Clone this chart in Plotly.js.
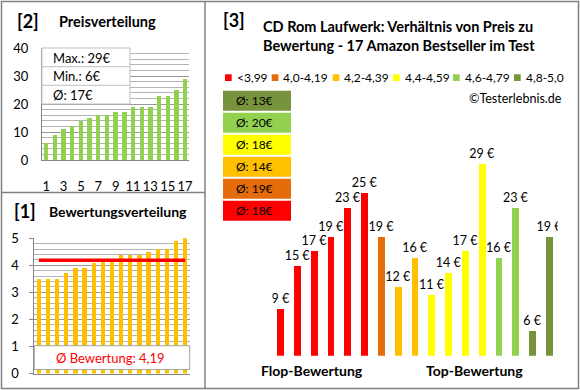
<!DOCTYPE html>
<html>
<head>
<meta charset="utf-8">
<script src="https://cdn.plot.ly/plotly-3.0.1.min.js"></script>
<style>html,body{margin:0;padding:0;background:#fff}#chart{width:580px;height:390px}</style>
</head>
<body>
<div id="chart"></div>
<script>
// ---- data ----
const productIdx = [1,2,3,4,5,6,7,8,9,10,11,12,13,14,15,16,17];
const pricesSorted = [6,9,11,12,14,15,16,16,17,17,19,19,19,23,23,25,29];
const ratingsSorted = [3.5,3.5,3.5,3.7,3.9,3.9,4.1,4.2,4.2,4.4,4.4,4.4,4.5,4.6,4.6,4.9,5.0];
const avgRating = 4.19;
const avgRatingLabel = 'Ø Bewertung: 4,19';
const statLabels = ['Max.: 29€', 'Min.: 6€', 'Ø: 17€'];
const priceTicks = [1,3,5,7,9,11,13,15,17];

const barPrices = [9,15,17,19,23,25,19,12,16,11,14,17,29,16,23,6,19];
const barGroup  = [0,0,0,0,0,0,1,2,2,3,3,3,3,4,4,5,5];
const groupNames  = ['<3,99','4,0-4,19','4,2-4,39','4,4-4,59','4,6-4,79','4,8-5,0'];
const groupColors = ['#FF0000','#E46C0A','#FFC000','#FFFF00','#92D050','#77933C'];
const groupAvg    = ['18','19','14','18','20','13'];

// ---- helpers (pixel -> paper) ----
const W = 580, H = 390;
const px = x => x / W;
const py = y => 1 - y / H;
const FONT = 'Lato, "Open Sans", sans-serif';
const GRID = '#989898';
const AXIS = '#868686';

const traces = [
  { type: 'bar', x: productIdx, y: pricesSorted, xaxis: 'x', yaxis: 'y',
    marker: { color: '#92D050' }, width: 0.5, hoverinfo: 'skip' },
  { type: 'bar', x: productIdx, y: ratingsSorted, xaxis: 'x2', yaxis: 'y2',
    marker: { color: '#FFC000' }, width: 0.47, hoverinfo: 'skip' },
  { type: 'scatter', mode: 'lines', x: productIdx, y: productIdx.map(() => avgRating),
    xaxis: 'x2', yaxis: 'y2', line: { color: '#FF0000', width: 3.5 }, hoverinfo: 'skip' },
  { type: 'bar', x: barPrices.map((_, i) => i), y: barPrices, xaxis: 'x3', yaxis: 'y3',
    marker: { color: barGroup.map(g => groupColors[g]) }, width: 0.4,
    text: barPrices.map(p => p + ' €'), textposition: 'outside', constraintext: 'none',
    textfont: { family: FONT, size: 12.5, color: '#000' }, hoverinfo: 'skip' }
];

const shapes = [];
const annotations = [];
const ann = (text, x, y, opts) => annotations.push(Object.assign({
  text, x: px(x), y: py(y), xref: 'paper', yref: 'paper', showarrow: false,
  xanchor: 'left', yanchor: 'middle', font: { family: FONT, size: 12, color: '#000' }
}, opts || {}));
const rect = (x0, y0, x1, y1, fill, line, lw) => shapes.push({
  type: 'rect', xref: 'paper', yref: 'paper', x0: px(x0), x1: px(x1), y0: py(y1), y1: py(y0),
  fillcolor: fill, line: { color: line || 'rgba(0,0,0,0)', width: lw || 0 }, layer: 'above'
});
const line = (x0, y0, x1, y1, color, w) => shapes.push({
  type: 'line', xref: 'paper', yref: 'paper', x0: px(x0), x1: px(x1), y0: py(y0), y1: py(y1),
  line: { color, width: w }, layer: 'above'
});

// frame
rect(1.5, 1.5, 578.5, 388.5, 'rgba(0,0,0,0)', '#808080', 1.5);
line(205, 1.5, 205, 388.5, '#808080', 1.5);
line(1.5, 192.5, 205, 192.5, '#808080', 1.5);

// panel titles
ann('<b>[2]</b>', 15, 21, { font: { family: FONT, size: 18, color: '#000' } });
ann('<b>Preisverteilung</b>', 57, 21, { font: { family: FONT, size: 14.5, color: '#000' } });
ann('<b>[1]</b>', 12, 211, { font: { family: FONT, size: 18, color: '#000' } });
ann('<b>Bewertungsverteilung</b>', 47, 211, { font: { family: FONT, size: 14, color: '#000' } });
ann('<b>[3]</b>', 221, 20, { font: { family: FONT, size: 18, color: '#000' } });
ann('<b>CD Rom Laufwerk: Verhältnis von Preis zu<br>Bewertung - 17 Amazon Bestseller im Test</b>', 398.5, 36,
  { xanchor: 'center', align: 'left', font: { family: FONT, size: 14.5, color: '#000' } });

// stats box in price chart
rect(41.9, 48, 130, 104, '#FFFFFF', '#BFBFBF', 1);
line(41.9, 66.7, 130, 66.7, '#BFBFBF', 1);
line(41.9, 85.3, 130, 85.3, '#BFBFBF', 1);
statLabels.forEach((t, i) => ann(t, 51, [57.5, 76, 94.5][i], { font: { family: FONT, size: 13, color: '#000' } }));

// rating box
rect(34.3, 345.7, 189.7, 369.5, '#FFFFFF', '#A6A6A6', 1);
ann(avgRatingLabel, 110, 358, { xanchor: 'center', font: { family: FONT, size: 13, color: '#FF0000' } });

// legend
const legendX = [225, 271.7, 332.7, 393, 453, 514];
groupNames.forEach((n, i) => {
  rect(legendX[i], 74.3, legendX[i] + 6.7, 81, groupColors[i]);
  ann(n, legendX[i] + 9.5, 77.7, { font: { family: FONT, size: 12, color: '#000' } });
});
ann('©Testerlebnis.de', 564, 98, { xanchor: 'right', font: { family: FONT, size: 12.5, color: '#000' } });

// average boxes
groupAvg.forEach((a, i) => {
  const top = 200.7 - 22 * i;
  rect(223, top, 291, top + 20, groupColors[i]);
  ann('Ø: ' + a + '€', 233.5, top + 10, { font: { family: FONT, size: 12, color: '#000' } });
});

ann('<b>Flop-Bewertung</b>', 312, 370, { xanchor: 'center', font: { family: FONT, size: 14, color: '#000' } });
ann('<b>Top-Bewertung</b>', 474, 370, { xanchor: 'center', font: { family: FONT, size: 14, color: '#000' } });

const layout = {
  width: W, height: H, margin: { l: 0, r: 0, t: 0, b: 0 },
  paper_bgcolor: '#FFFFFF', plot_bgcolor: 'rgba(0,0,0,0)',
  showlegend: false, font: { family: FONT, size: 12, color: '#000' },
  bargap: 0,
  xaxis: { domain: [px(41.9), px(189.4)], range: [0.5, 17.5], tickvals: priceTicks,
    showgrid: false, zeroline: false, showline: true, linecolor: AXIS, linewidth: 1,
    ticks: '', ticklabelstandoff: 14, tickfont: { size: 13, color: '#000' }, fixedrange: true },
  yaxis: { domain: [py(160), py(48)], range: [0, 40], dtick: 10, showgrid: true, gridcolor: GRID,
    gridwidth: 1, zeroline: false, showline: true, linecolor: AXIS, linewidth: 1, ticks: '',
    ticklabelstandoff: 10, tickfont: { size: 13, color: '#000' },
    minor: { dtick: 2, showgrid: true, gridcolor: '#B4B4B4', gridwidth: 1 }, fixedrange: true },
  xaxis2: { domain: [px(34.3), px(189.7)], range: [0.5, 17.5], anchor: 'y2', showticklabels: false,
    showgrid: false, zeroline: false, showline: true, linecolor: AXIS, linewidth: 1, ticks: '', fixedrange: true },
  yaxis2: { domain: [py(373.5), py(238.3)], range: [0, 5], dtick: 1, anchor: 'x2', showgrid: true,
    gridcolor: GRID, zeroline: false, showline: true, linecolor: AXIS, linewidth: 1, ticks: 'outside',
    ticklen: 4, tickcolor: AXIS, ticklabelstandoff: 8, tickfont: { size: 13, color: '#000' },
    minor: { dtick: 0.2, showgrid: true, gridcolor: '#B4B4B4', gridwidth: 1 }, fixedrange: true },
  xaxis3: { domain: [px(272.3), px(557.7)], range: [-0.5, 16.5], anchor: 'y3', visible: false, fixedrange: true },
  yaxis3: { domain: [py(355.7), py(100)], range: [2.56, 37.83], anchor: 'x3', visible: false, fixedrange: true },
  shapes, annotations
};

Plotly.newPlot('chart', traces, layout, { staticPlot: true, displayModeBar: false });
</script>
</body>
</html>
